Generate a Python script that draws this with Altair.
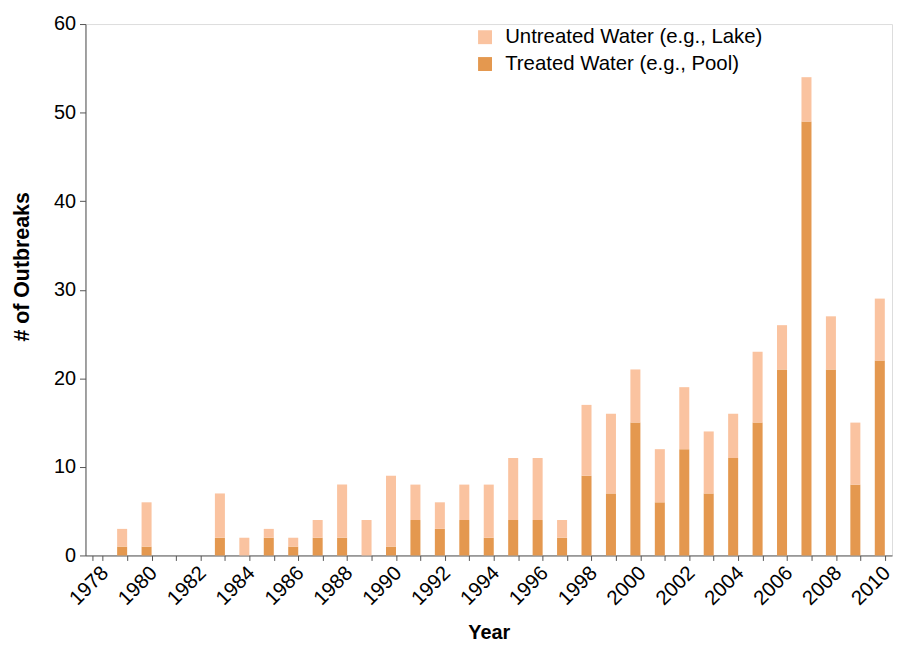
import altair as alt
import pandas as pd

years = [str(y) for y in range(1978, 2011)]
treated = [0, 1, 1, 0, 0, 2, 0, 2, 1, 2, 2, 0, 1, 4, 3, 4, 2, 4, 4, 2, 9, 7, 15, 6, 12, 7, 11, 15, 21, 49, 21, 8, 22]
untreated = [0, 2, 5, 0, 0, 5, 2, 1, 1, 2, 6, 4, 8, 4, 3, 4, 6, 7, 7, 2, 8, 9, 6, 6, 7, 7, 5, 8, 5, 5, 6, 7, 7]
series = ["Untreated Water (e.g., Lake)", "Treated Water (e.g., Pool)"]
colors = ["#FAC3A0", "#E4984F"]

rows = []
for y, t, u in zip(years, treated, untreated):
    rows.append({"Year": y, "Type": series[1], "Count": t, "ord": 0})
    rows.append({"Year": y, "Type": series[0], "Count": u, "ord": 1})
df = pd.DataFrame(rows)

chart = alt.Chart(df).mark_bar().encode(
    x=alt.X("Year:O", sort=years,
            scale=alt.Scale(paddingInner=0.59, paddingOuter=0.295),
            axis=alt.Axis(title="Year", labelAngle=-45, labelAlign="right", labelBaseline="top",
                          labelExpr="toNumber(datum.value) % 2 == 0 ? datum.value : ''",
                          tickBand="extent", labelFontSize=20.5, titleFontSize=20, titleFontWeight="bold",
                          titlePadding=14, labelPadding=2, domainColor="#555555", tickColor="#555555",
                          labelColor="#000000", titleColor="#000000", tickSize=5, labelOverlap=False)),
    y=alt.Y("Count:Q", stack="zero",
            scale=alt.Scale(domain=[0, 60]),
            axis=alt.Axis(title="# of Outbreaks", values=[0, 10, 20, 30, 40, 50, 60], grid=False,
                          labelFontSize=20, titleFontSize=21.5, titleFontWeight="bold",
                          titleX=-63, titleY=244, titleAlign="center", titleBaseline="middle",
                          titleAngle=-90, labelPadding=4,
                          domainColor="#555555", tickColor="#555555",
                          labelColor="#000000", titleColor="#000000", tickSize=6)),
    color=alt.Color("Type:N", scale=alt.Scale(domain=series, range=colors),
                    legend=alt.Legend(title=None, orient="none", legendX=392, legendY=3,
                                      symbolType="square", symbolSize=196, symbolStrokeWidth=0,
                                      labelFontSize=20.5, labelColor="#000000", rowPadding=6,
                                      labelOffset=10, labelLimit=0)),
    order=alt.Order("ord:Q"),
).properties(
    width=812, height=535,
    autosize=alt.AutoSizeParams(type="none"),
    padding={"left": 78, "top": 14, "right": 3, "bottom": 87},
).configure_view(stroke=None).configure(font="Liberation Sans")

chart.save("out.html", embed_options={"renderer": "svg", "actions": False})
